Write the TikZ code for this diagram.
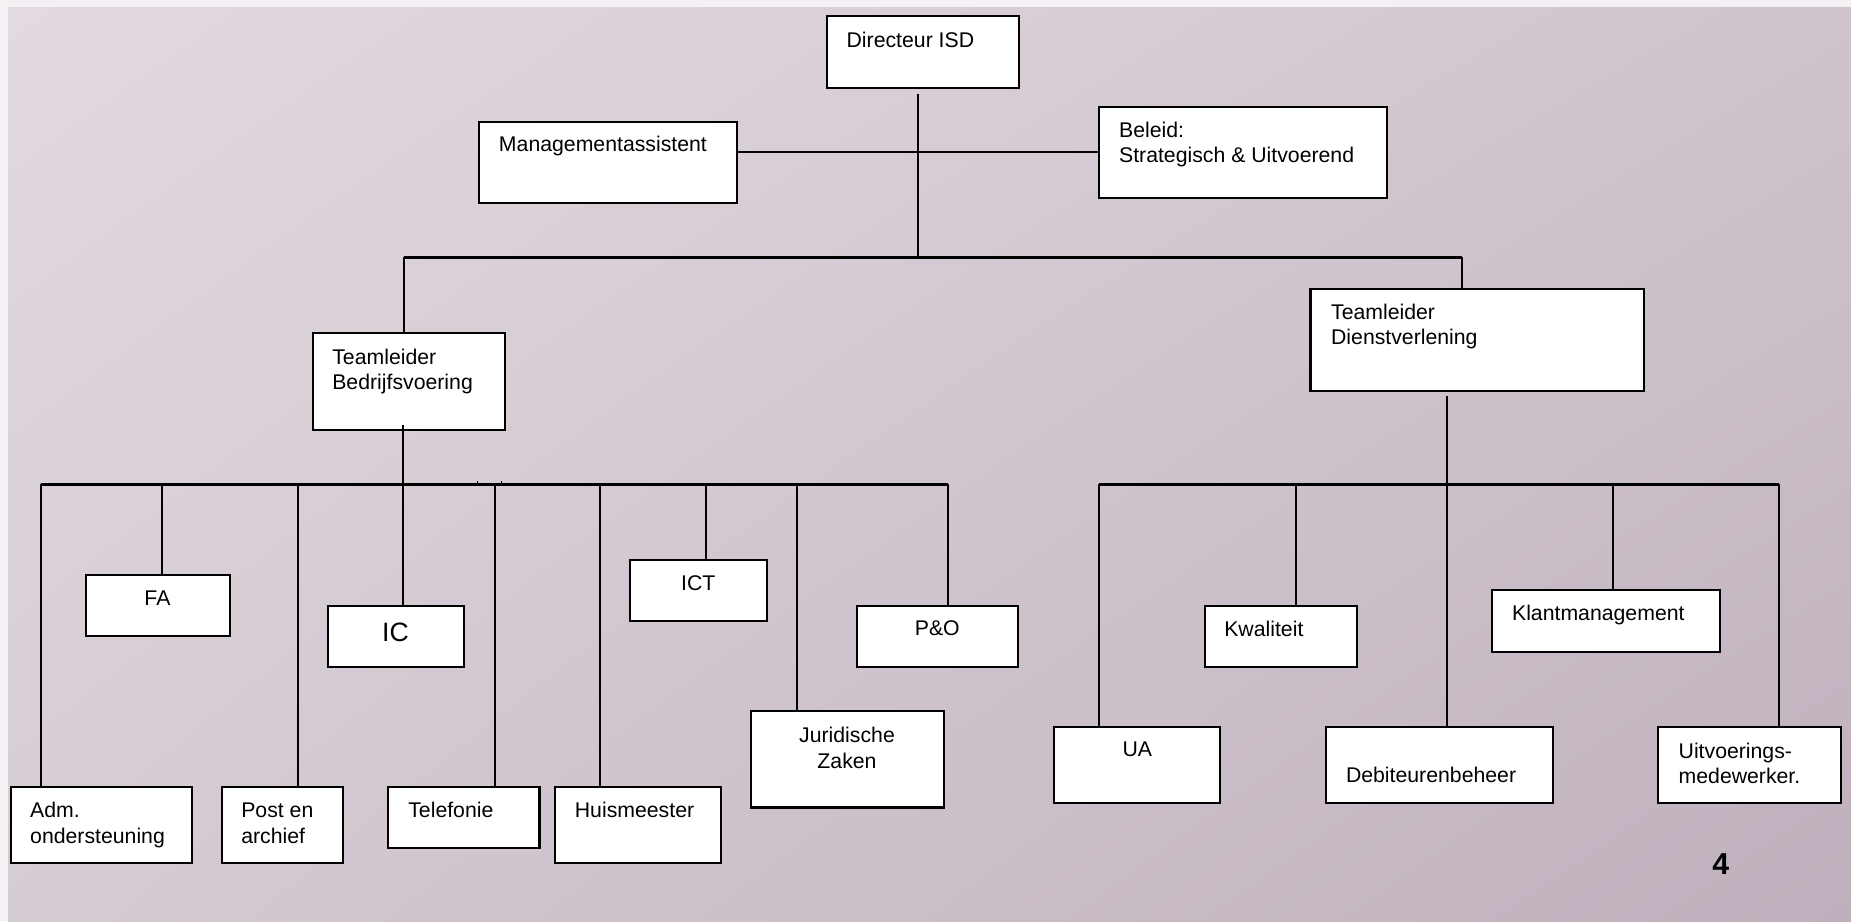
\documentclass[tikz,border=0pt]{standalone}
\usepackage{fontspec}
\setmainfont{Liberation Sans}
\usetikzlibrary{shadings}
\definecolor{bgTL}{HTML}{E3DAE1}
\definecolor{bgTR}{HTML}{CFC4CD}
\definecolor{bgBL}{HTML}{D5CBD3}
\definecolor{bgBR}{HTML}{BEB0BC}
\definecolor{margin}{HTML}{F4F0F4}
\newcommand\obox[5]{\node[obox, minimum width={#4-#2}, minimum height={#5-#3}] (#1) at ({(#2+#4)/2},{(#3+#5)/2}) {};}
\tikzset{
  obox/.style={draw=black, fill=white, line width=1.8pt, inner sep=0pt, rectangle},
  conn/.style={draw=black, line width=1.7pt},
  bar/.style={draw=black, line width=2.1pt},
  txt/.style={inner sep=0pt, anchor=base west, font=\fontsize{18}{21.5}\selectfont, align=left},
  ctxt/.style={inner sep=0pt, anchor=base, font=\fontsize{18}{21.5}\selectfont, align=center},
}
\begin{document}
\begin{tikzpicture}[x=1pt,y=-1pt]
\useasboundingbox (0,0) rectangle (1568,780.2);
\fill[margin] (0,0) rectangle (1568,780.2);
\shade[upper left=bgTL, upper right=bgTR, lower left=bgBL, lower right=bgBR] (7,6) rectangle (1568,780.2);

% junction coordinates
\coordinate (j0) at (777.5,129);
\coordinate (j1) at (777.5,218);
\coordinate (bL) at (342,218);
\coordinate (bR) at (1238.5,218);
\coordinate (lA) at (34.6,410.3);
\coordinate (lB) at (137,410.3);
\coordinate (lC) at (252.4,410.3);
\coordinate (lD) at (341.8,410.3);
\coordinate (lE) at (419,410.3);
\coordinate (lF) at (508,410.3);
\coordinate (lG) at (598,410.3);
\coordinate (lH) at (675,410.3);
\coordinate (lI) at (803,410.3);
\coordinate (rA) at (930.8,410.3);
\coordinate (rB) at (1097.7,410.3);
\coordinate (rC) at (1225.6,410.3);
\coordinate (rD) at (1366.6,410.3);
\coordinate (rE) at (1507.3,410.3);
\coordinate (t1) at (404.3,407.6);
\coordinate (t2) at (424.7,407.6);

% boxes
\obox{dir}{700.6}{13.6}{863.5}{74.8}
\obox{mgmt}{405.5}{103}{624}{171.7}
\obox{bel}{931}{90.4}{1174.7}{167.4}
\obox{tlb}{264.8}{282.4}{427.9}{364.3}
\obox{tld}{1110.1}{244.5}{1392.7}{331}
\obox{adm}{9.2}{666.4}{162.6}{731.3}
\obox{fa}{73}{487}{195}{539}
\obox{post}{188}{666.4}{290.6}{731.3}
\obox{ic}{278}{513}{393}{565}
\obox{tel}{329}{666.4}{457}{718}
\obox{huis}{470}{666.4}{611}{731.3}
\obox{ict}{534}{474.6}{649.5}{526}
\obox{jur}{636}{602.5}{800}{684}
\obox{po}{725.6}{513}{862.6}{565}
\obox{ua}{892.6}{615.6}{1033.8}{680}
\obox{kwal}{1020.4}{513}{1149.2}{565}
\obox{deb}{1123}{615.6}{1315.6}{680}
\obox{klant}{1263.6}{500}{1456.8}{552}
\obox{uitv}{1404.8}{615.6}{1559.3}{680}

% connectors
\draw[conn] ([yshift=-3.5pt]dir.south -| j1) -- (j1);
\draw[conn] (mgmt.east |- j0) -- (bel.west |- j0);
\draw[bar] (bL) -- (bR);
\draw[conn] (bL) -- (bL |- tlb.north);
\draw[conn] (bR) -- (bR |- tld.north);
\draw[bar] (lA) -- (lI);
\draw[bar] (rA) -- (rE);
\draw[conn] ([yshift=5pt]tlb.south -| lD) -- (lD |- ic.north);
\draw[conn] ([yshift=-3.6pt]tld.south -| rC) -- (rC |- deb.north);
\draw[conn] (lA) -- (lA |- adm.north);
\draw[conn] (lB) -- (lB |- fa.north);
\draw[conn] (lC) -- (lC |- post.north);
\draw[conn] (lE) -- (lE |- tel.north);
\draw[conn] (lF) -- (lF |- huis.north);
\draw[conn] (lG) -- (lG |- ict.north);
\draw[conn] (lH) -- (lH |- jur.north);
\draw[conn] (lI) -- (lI |- po.north);
\draw[conn] (rA) -- (rA |- ua.north);
\draw[conn] (rB) -- (rB |- kwal.north);
\draw[conn] (rD) -- (rD |- klant.north);
\draw[conn] (rE) -- (rE |- uitv.north);
\draw[line width=0.9pt] (t1) -- (t1 |- lA);
\draw[line width=0.9pt] (t2) -- (t2 |- lA);

% texts (multi-line nodes: base = last line)
\node[txt] (dir-t) at (717,40.1) {Directeur ISD};
\node[txt] (mgmt-t) at (422.5,128.6) {Managementassistent};
\node[txt] (bel-t) at (947.8,137.8) {Beleid:\\Strategisch \& Uitvoerend};
\node[txt] (tlb-t) at (281.3,330.2) {Teamleider\\Bedrijfsvoering};
\node[txt] (tld-t) at (1127.4,292) {Teamleider\\Dienstverlening};
\node[txt] (adm-t) at (25.4,714.1) {Adm.\\ondersteuning};
\node[ctxt] (fa-t) at (133.4,512.5) {FA};
\node[txt] (post-t) at (204.2,714.1) {Post en\\archief};
\node[ctxt, font=\fontsize{22.5}{26}\selectfont] (ic-t) at (335,543.3) {IC};
\node[txt] (tel-t) at (345.7,692.6) {Telefonie};
\node[txt] (huis-t) at (486.8,692.6) {Huismeester};
\node[ctxt] (ict-t) at (591.5,500.6) {ICT};
\node[ctxt] (jur-t) at (717.5,650.8) {Juridische\\Zaken};
\node[ctxt] (po-t) at (794,538.5) {P\&O};
\node[ctxt] (ua-t) at (963.4,641) {UA};
\node[txt] (kwal-t) at (1036.9,538.8) {Kwaliteit};
\node[txt] (klant-t) at (1280.7,526) {Klantmanagement};
\node[txt] (deb-t) at (1140,663) {Debiteurenbeheer};
\node[txt] (uitv-t) at (1421.8,663.9) {Uitvoerings-\\medewerker.};
\node[inner sep=0pt, anchor=base, font=\fontsize{25.6}{30}\selectfont\bfseries] (page) at (1457.7,741.2) {4};
\end{tikzpicture}
\end{document}
